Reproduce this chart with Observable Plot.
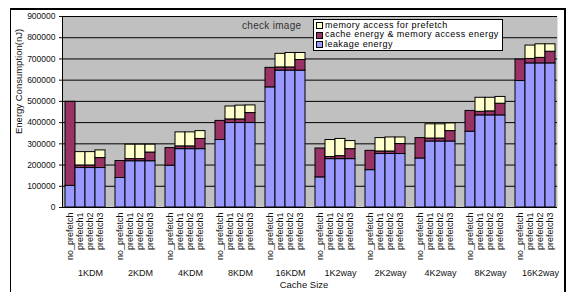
<!DOCTYPE html>
<html><head><meta charset="utf-8">
<script src="https://cdn.jsdelivr.net/npm/d3@7"></script>
<script src="https://cdn.jsdelivr.net/npm/@observablehq/plot@0.6"></script>
<style>
body{margin:0;background:#fff;font-family:"Liberation Sans",Arial,sans-serif;}
#wrap{position:relative;width:568px;height:292px;overflow:hidden;}
#border{position:absolute;left:10px;top:8px;width:553px;height:290px;border:1px solid #000;border-top-width:2px;border-right-width:2px;pointer-events:none;}
#legend{position:absolute;left:313px;top:19px;width:186px;height:29px;border:1px solid #000;background:#fff;font-size:9px;letter-spacing:0.45px;color:#000;padding:1px 0 0 2px;line-height:9.4px;}
#legend .it{display:flex;align-items:center;white-space:nowrap;}
#legend .sw{width:5px;height:5px;border:1px solid #000;margin-right:2px;flex:none;}
#note{position:absolute;left:242px;top:20px;font-size:10px;color:#333;letter-spacing:0.3px;}
</style>
</head><body>
<div id="wrap"><div id="chart"></div><div id="border"></div><div id="note">check image</div><div id="legend"></div></div>
<script>
const groups = ["1KDM","2KDM","4KDM","8KDM","16KDM","1K2way","2K2way","4K2way","8K2way","16K2way"];
const bars = ["no_prefetch","prefetch1","prefetch2","prefetch3"];
const series = ["leakage energy","cache energy & memory access energy","memory access for prefetch"];
const legendLabels = ["memory  access for prefetch","cache energy & memory access energy","leakage energy"];
const colors = ["#9999ff","#993366","#ffffcc"];
const yTicks = [0,100000,200000,300000,400000,500000,600000,700000,800000,900000];

// values per group, in bar order (no_prefetch, prefetch1, prefetch2, prefetch3)
const leakage = [
  102000,186000,186000,186000,
  139000,218000,218000,218000,
  197000,275000,275000,275000,
  318000,398000,398000,398000,
  566000,645000,645000,645000,
  142000,228000,228000,228000,
  176000,252000,252000,252000,
  231000,311000,311000,311000,
  357000,434000,434000,434000,
  596000,679000,679000,679000
];
const cacheMem = [
  396000,12000,12000,47000,
  80000,10000,10000,41000,
  83000,13000,13000,48000,
  90000,17000,17000,47000,
  92000,15000,15000,50000,
  136000,10000,14000,47000,
  91000,12000,12000,47000,
  96000,14000,14000,49000,
  98000,17000,19000,55000,
  101000,21000,26000,55000
];
const prefetchMem = [
  0,63000,63000,36000,
  0,68000,68000,37000,
  0,66000,66000,37000,
  0,61000,65000,36000,
  0,64000,68000,33000,
  0,80000,81000,38000,
  0,63000,66000,31000,
  0,67000,67000,36000,
  0,66000,64000,32000,
  0,63000,64000,35000
];

const slots = [];
groups.forEach((g,i)=>{ bars.forEach(b=>slots.push(g+"|"+b)); if(i<groups.length-1) slots.push(g+"|gap"); });
const rows = [];
groups.forEach((g,gi)=>bars.forEach((b,bi)=>{
  const k = gi*4+bi;
  rows.push({slot:g+"|"+b, series:series[0], value:leakage[k]});
  rows.push({slot:g+"|"+b, series:series[1], value:cacheMem[k]});
  rows.push({slot:g+"|"+b, series:series[2], value:prefetchMem[k]});
}));

const chart = Plot.plot({
  width:568, height:292,
  marginTop:16, marginBottom:85, marginLeft:62, marginRight:11,
  style:{fontFamily:'"Liberation Sans",Arial,sans-serif', fontSize:"9px", color:"#111", background:"transparent"},
  x:{type:"band", domain:slots, padding:0},
  y:{domain:[0,900000]},
  color:{domain:series, range:colors},
  marks:[
    Plot.frame({fill:"#c0c0c0", stroke:null}),
    Plot.gridY(yTicks.slice(1), {stroke:"#000", strokeOpacity:1, strokeWidth:1}),
    Plot.barY(rows, {x:"slot", y:"value", fill:"series", stroke:"#000", strokeWidth:1}),
    Plot.ruleY([0], {stroke:"#000"}),
    Plot.frame({anchor:"left", stroke:"#000"}),
    Plot.axisY({ticks:yTicks, tickFormat:d=>String(d), tickSize:3, tickPadding:4, fontSize:8.5, label:null}),
    Plot.axisX({tickFormat:s=>{const p=s.split("|")[1]; return p==="gap"?"":p;}, tickRotate:-90, tickSize:0, tickPadding:5, label:null}),
    Plot.text(groups, {x:g=>g+"|prefetch2", frameAnchor:"bottom", dy:68, fontSize:9}),
    Plot.text(["Cache Size"], {frameAnchor:"bottom", dx:-6, dy:80, fontSize:9.5}),
    Plot.text(["Energy Consumption(nJ)"], {frameAnchor:"left", rotate:-90, dx:-44, dy:22, fontSize:9.5})
  ]
});
document.getElementById("chart").appendChild(chart);

const lg = document.getElementById("legend");
[2,1,0].forEach((si,i)=>{
  const d = document.createElement("div"); d.className="it";
  const sw = document.createElement("span"); sw.className="sw"; sw.style.background=colors[si];
  const t = document.createElement("span"); t.textContent = legendLabels[i];
  d.appendChild(sw); d.appendChild(t); lg.appendChild(d);
});
</script>
</body></html>
